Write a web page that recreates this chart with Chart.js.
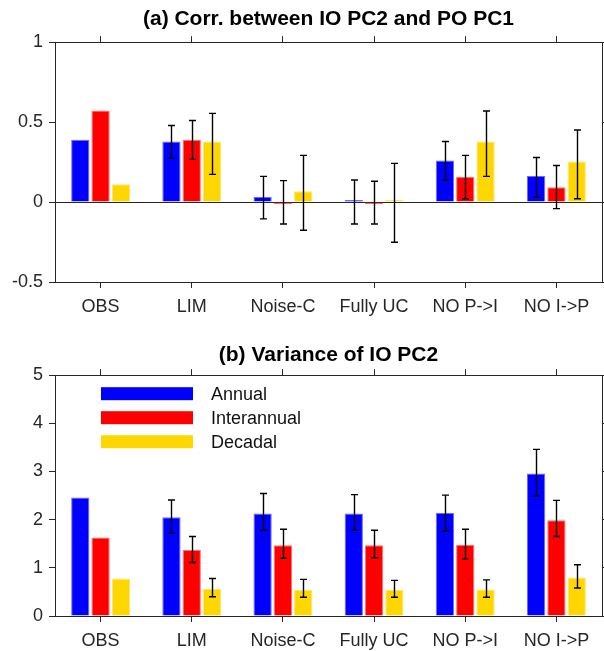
<!DOCTYPE html>
<html>
<head>
<meta charset="utf-8">
<script src="https://cdn.jsdelivr.net/npm/chart.js@4/dist/chart.umd.min.js"></script>
<style>
  html, body { margin: 0; padding: 0; background: #fff; }
  body { width: 604px; height: 651px; position: relative; overflow: hidden; }
  canvas { position: absolute; left: 0; }
  #c1 { top: 0; }
  #c2 { top: 325px; }
</style>
</head>
<body>
<canvas id="c1" width="604" height="325"></canvas>
<canvas id="c2" width="604" height="326"></canvas>
<script>
// ---------- data ----------
const categories = ['OBS', 'LIM', 'Noise-C', 'Fully UC', 'NO P->I', 'NO I->P'];
const seriesNames = ['Annual', 'Interannual', 'Decadal'];

// (a) correlation
const corrAnnual   = [0.390, 0.379, 0.032, 0.005, 0.260, 0.163];
const corrInter    = [0.572, 0.389, -0.005, -0.004, 0.158, 0.092];
const corrDecadal  = [0.111, 0.379, 0.067, 0.004, 0.379, 0.254];
const corrAnnualLo  = [null, 0.275, -0.105, -0.137, 0.136, 0.030];
const corrAnnualHi  = [null, 0.479, 0.161, 0.138, 0.379, 0.279];
const corrInterLo   = [null, 0.267, -0.137, -0.137, 0.021, -0.041];
const corrInterHi   = [null, 0.510, 0.134, 0.130, 0.292, 0.229];
const corrDecadalLo = [null, 0.173, -0.176, -0.251, 0.161, 0.021];
const corrDecadalHi = [null, 0.555, 0.292, 0.242, 0.570, 0.451];

// (b) variance
const varAnnual   = [2.46, 2.05, 2.13, 2.13, 2.14, 2.96];
const varInter    = [1.63, 1.37, 1.47, 1.47, 1.48, 1.99];
const varDecadal  = [0.78, 0.56, 0.54, 0.54, 0.55, 0.80];
const varAnnualLo  = [null, 1.72, 1.78, 1.78, 1.76, 2.49];
const varAnnualHi  = [null, 2.41, 2.545, 2.52, 2.51, 3.46];
const varInterLo   = [null, 1.11, 1.20, 1.21, 1.18, 1.65];
const varInterHi   = [null, 1.65, 1.80, 1.78, 1.80, 2.40];
const varDecadalLo = [null, 0.40, 0.39, 0.39, 0.39, 0.58];
const varDecadalHi = [null, 0.78, 0.76, 0.74, 0.75, 1.065];

// y tick settings
const corrTicks = { min: -0.5, max: 1, step: 0.5 };
const varTicks  = { min: 0, max: 5, step: 1 };

// ---------- styling ----------
const FONT = '"Liberation Sans", Arial, Helvetica, sans-serif';
const AXC = '#262626';
const fills   = ['#0000ff', '#ff0000', '#ffd700'];
const borders = ['#6a6aff', '#ff7070', '#ffe36a'];

Chart.defaults.font.family = FONT;
Chart.defaults.color = AXC;

// error bar plugin: uses bar elements' x and the y scale
const errorBars = {
  id: 'errorBars',
  afterDatasetsDraw(chart) {
    const ctx = chart.ctx;
    const ys = chart.scales.y;
    ctx.save();
    ctx.strokeStyle = '#000';
    ctx.lineWidth = 1.4;
    chart.data.datasets.forEach((ds, i) => {
      if (!ds.errLo) return;
      const meta = chart.getDatasetMeta(i);
      meta.data.forEach((el, j) => {
        const lo = ds.errLo[j], hi = ds.errHi[j];
        if (lo == null || hi == null) return;
        const x = Math.round(el.x) + 0.5;
        const y1 = ys.getPixelForValue(lo), y2 = ys.getPixelForValue(hi);
        const cw = 3.5;
        ctx.beginPath();
        ctx.moveTo(x, y1); ctx.lineTo(x, y2);
        ctx.moveTo(x - cw, y1); ctx.lineTo(x + cw, y1);
        ctx.moveTo(x - cw, y2); ctx.lineTo(x + cw, y2);
        ctx.stroke();
      });
    });
    ctx.restore();
  }
};

// legend plugin (drawn inside chart area, top-left)
const boxLegend = {
  id: 'boxLegend',
  afterDraw(chart, args, opts) {
    if (!opts || !opts.show) return;
    const ctx = chart.ctx;
    const ca = chart.chartArea;
    ctx.save();
    ctx.font = '18px ' + FONT;
    ctx.textBaseline = 'middle';
    ctx.textAlign = 'left';
    chart.data.datasets.forEach((ds, i) => {
      const x = ca.left + opts.dx;
      const y = ca.top + opts.dy + i * opts.step;
      ctx.fillStyle = ds.backgroundColor;
      ctx.fillRect(x, y, opts.w, opts.h);
      ctx.fillStyle = '#111';
      ctx.fillText(ds.label, x + opts.w + opts.gap, y + opts.h / 2 + 1);
    });
    ctx.restore();
  }
};

const fmtTick = v => String(Math.round(v * 100) / 100);

function makeChart(id, title, titlePad, values, lows, highs, yt, zeroLine, xAxisH, showLegend) {
  const datasets = values.map((v, i) => ({
    label: seriesNames[i],
    data: v,
    errLo: lows[i],
    errHi: highs[i],
    backgroundColor: fills[i],
    borderColor: borders[i],
    borderWidth: 1,
    borderSkipped: 'start',
    minBarLength: 2,
    categoryPercentage: 0.668,
    barPercentage: 0.9
  }));
  return new Chart(document.getElementById(id), {
    type: 'bar',
    data: { labels: categories, datasets },
    plugins: [errorBars, boxLegend],
    options: {
      responsive: false,
      animation: false,
      events: [],
      layout: { padding: 0 },
      plugins: {
        legend: { display: false },
        tooltip: { enabled: false },
        title: {
          display: true,
          fullSize: false,
          text: title,
          color: '#000',
          font: { size: 21, weight: 'bold', family: FONT, lineHeight: 1.2 },
          padding: titlePad
        },
        boxLegend: { show: showLegend, dx: 46, dy: 12, step: 24, w: 92, h: 13, gap: 18 }
      },
      scales: {
        x: {
          type: 'category',
          position: 'bottom',
          offset: true,
          grid: { display: true, drawOnChartArea: false, drawTicks: true, tickLength: 6, tickColor: AXC, offset: false },
          border: { display: true, color: AXC, width: 1 },
          ticks: { font: { size: 18, family: FONT }, color: AXC, padding: 8, maxRotation: 0, autoSkip: false },
          afterFit: s => { s.height = xAxisH; }
        },
        x2: {
          type: 'category',
          position: 'top',
          labels: categories,
          offset: true,
          grid: { display: true, drawOnChartArea: false, drawTicks: true, tickLength: 6, tickColor: AXC, offset: false },
          border: { display: true, color: AXC, width: 1 },
          ticks: { display: false },
          afterFit: s => { s.height = 6; }
        },
        y: {
          position: 'left',
          min: yt.min, max: yt.max,
          ticks: { stepSize: yt.step, font: { size: 18, family: FONT }, color: AXC, padding: 6, callback: fmtTick },
          grid: {
            display: true,
            drawOnChartArea: zeroLine,
            drawTicks: true,
            tickLength: 6,
            tickColor: AXC,
            color: c => (c.tick && c.tick.value === 0) ? AXC : 'rgba(0,0,0,0)',
            lineWidth: 1
          },
          border: { display: true, color: AXC, width: 1 },
          afterFit: s => { s.width = 55; }
        },
        y2: {
          position: 'right',
          min: yt.min, max: yt.max,
          ticks: { display: false, stepSize: yt.step },
          grid: { display: true, drawOnChartArea: false, drawTicks: true, tickLength: 6, tickColor: AXC },
          border: { display: true, color: AXC, width: 1 },
          afterFit: s => { s.width = 2; }
        }
      }
    }
  });
}

makeChart('c1', '(a) Corr. between IO PC2 and PO PC1', { top: 7, bottom: 4 },
  [corrAnnual, corrInter, corrDecadal],
  [corrAnnualLo, corrInterLo, corrDecadalLo],
  [corrAnnualHi, corrInterHi, corrDecadalHi],
  corrTicks, true, 43, false);

makeChart('c2', '(b) Variance of IO PC2', { top: 18, bottom: 1 },
  [varAnnual, varInter, varDecadal],
  [varAnnualLo, varInterLo, varDecadalLo],
  [varAnnualHi, varInterHi, varDecadalHi],
  varTicks, false, 35, true);
</script>
</body>
</html>
